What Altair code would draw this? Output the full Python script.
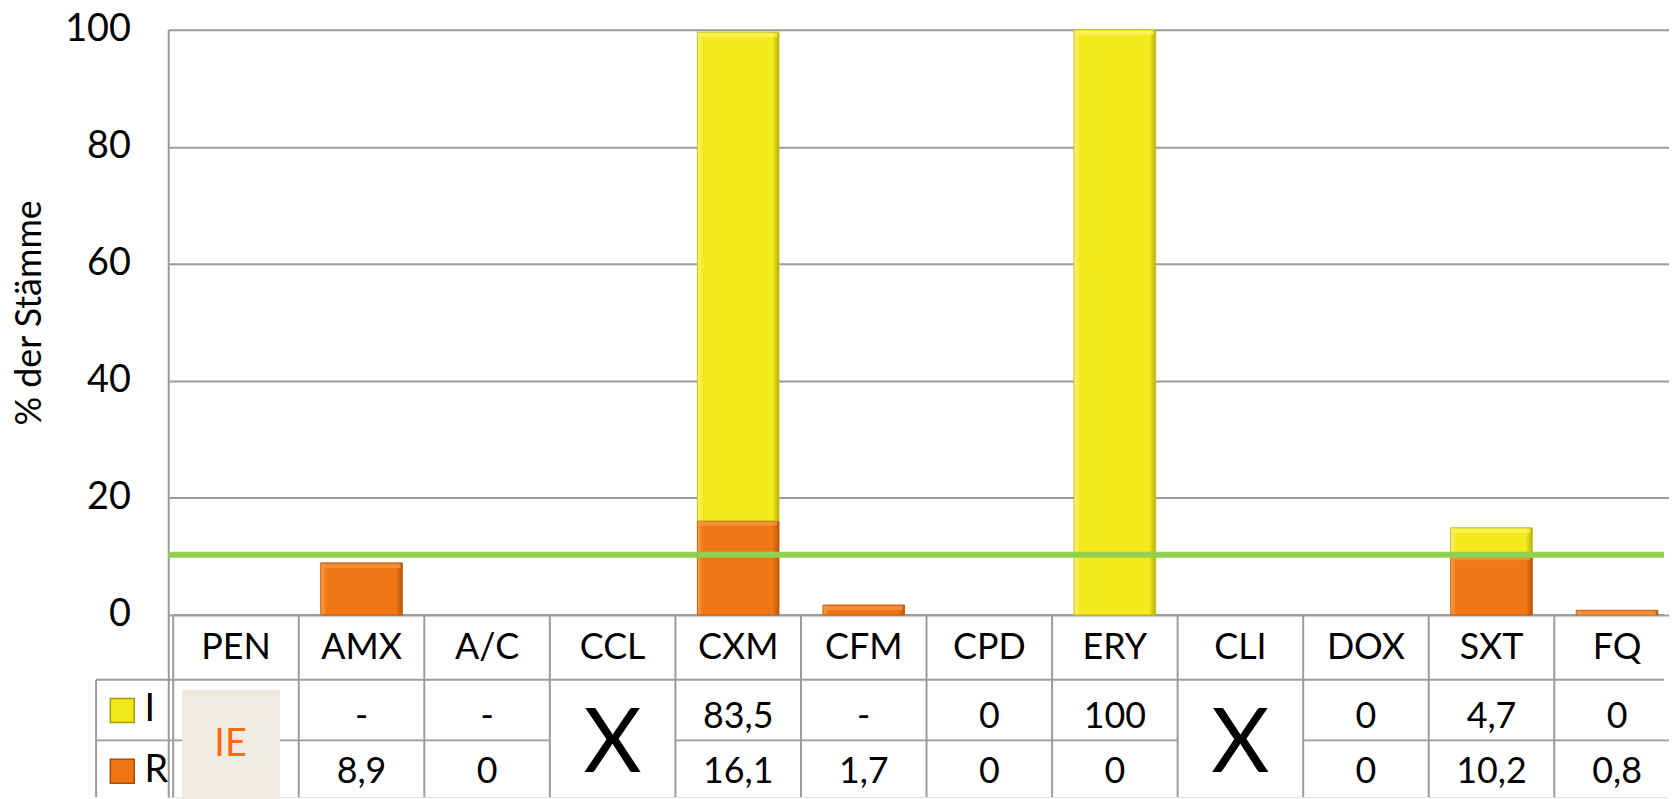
import altair as alt
import pandas as pd

# ---------------- data ----------------
categories = ["PEN", "AMX", "A/C", "CCL", "CXM", "CFM", "CPD", "ERY", "CLI", "DOX", "SXT", "FQ"]
i_values = [None, None, None, None, 83.5, None, 0, 100, None, 0, 4.7, 0]
r_values = [None, 8.9, 0, None, 16.1, 1.7, 0, 0, None, 0, 10.2, 0.8]
merged_x = ["CCL", "CLI"]      # cells shown with a large X
ie_cells = ["PEN"]             # cell shown as "IE"
series_names = ["I", "R"]
threshold = 10.3
y_ticks = [0, 20, 40, 60, 80, 100]
y_title = "% der Stämme"

# ---------------- layout constants ----------------
PX_X = 127.0          # px per category column
PX_Y = 5.88           # px per percent
W = 1508
H = 771
XMAX = W / PX_X
YMIN = 100 - H / PX_Y
FONT = "Lato"
GRID = "#9C9C9C"

def py(px):           # pixels below the zero line -> data units
    return -px / PX_Y

def px_(px):          # pixels from the plot's left edge -> data units
    return px / PX_X

def fmt(v):
    if v is None:
        return "-"
    return str(int(v)) if float(v).is_integer() else str(v).replace(".", ",")

# bars
bar_rows = []
for k, c in enumerate(categories):
    r = r_values[k] or 0
    i = i_values[k] or 0
    if r > 0:
        bar_rows.append(dict(cat=c, xc=k + 0.5, series="R", y0=0, y1=r))
    if i > 0:
        bar_rows.append(dict(cat=c, xc=k + 0.5, series="I", y0=r, y1=r + i))
bars_df = pd.DataFrame(bar_rows)

X_SCALE = alt.Scale(domain=[0, XMAX], nice=False, zero=False)
Y_SCALE = alt.Scale(domain=[YMIN, 100], nice=False, zero=False)

def grad(light, base, dark):
    return alt.Gradient(
        gradient="linear", x1=0, x2=1, y1=0, y2=0,
        stops=[alt.GradientStop(color=light, offset=0),
               alt.GradientStop(color=base, offset=0.07),
               alt.GradientStop(color=base, offset=0.92),
               alt.GradientStop(color=dark, offset=1)])

Y_AXIS = alt.Axis(values=y_ticks, grid=True, gridColor=GRID, gridWidth=2,
                  domainColor=GRID, domainWidth=2, ticks=False, labelPadding=38,
                  labelFont=FONT, labelFontSize=38, labelColor="black",
                  title=y_title, titleFont=FONT, titleFontSize=36,
                  titleFontWeight="normal", titleColor="black",
                  titleX=-139, titleY=284, titleAngle=270,
                  titleAlign="center", titleBaseline="middle")

# table grid lines (first layer: carries the y axis)
LEG_L = px_(-78)
R1 = py(65)
R2 = py(126)
lines = [dict(x=0, x2=XMAX, y=0, y2=0),
         dict(x=LEG_L, x2=XMAX, y=R1, y2=R1),
         dict(x=LEG_L, x2=0, y=R2, y2=R2)]
for k, c in enumerate(categories):
    if c not in merged_x:
        lines.append(dict(x=k, x2=k + 1, y=R2, y2=R2))
for k in range(len(categories) + 1):
    lines.append(dict(x=k, x2=k, y=0, y2=YMIN))
lines.append(dict(x=LEG_L, x2=LEG_L, y=R1, y2=YMIN))
lines_df = pd.DataFrame(lines)
grid_lines = alt.Chart(lines_df).mark_rule(color=GRID, strokeWidth=2).encode(
    x=alt.X("x:Q", scale=X_SCALE, axis=None), x2="x2:Q",
    y=alt.Y("y:Q", scale=Y_SCALE, axis=Y_AXIS), y2="y2:Q")

base_bars = alt.Chart(bars_df)
bars_r = base_bars.transform_filter(alt.datum.series == "R").mark_bar(
    size=82, orient="vertical",
    color=grad("#F6A050", "#F07716", "#B8560C"),
    stroke="#C45E0C", strokeWidth=1).encode(
    x=alt.X("xc:Q", scale=X_SCALE),
    y=alt.Y("y0:Q", scale=Y_SCALE),
    y2="y1:Q")
bars_i = base_bars.transform_filter(alt.datum.series == "I").mark_bar(
    size=82, orient="vertical",
    color=grad("#FBF37A", "#F5EA1E", "#B7AE10"),
    stroke="#C9BF14", strokeWidth=1).encode(
    x=alt.X("xc:Q", scale=X_SCALE),
    y=alt.Y("y0:Q", scale=Y_SCALE),
    y2="y1:Q")
# light bevel along the top edge of each segment
bevel = base_bars.mark_tick(orient="horizontal", size=78, thickness=4, yOffset=3).encode(
    x=alt.X("xc:Q", scale=X_SCALE),
    y=alt.Y("y1:Q", scale=Y_SCALE),
    color=alt.Color("series:N", scale=alt.Scale(domain=series_names, range=["#FBF46E", "#F69A45"]),
                    legend=None))

# threshold line
thr_df = pd.DataFrame([dict(x=px_(-5), x2=XMAX, y=threshold)])
thr = alt.Chart(thr_df).mark_rule(color="#92D050", strokeWidth=6).encode(
    x=alt.X("x:Q", scale=X_SCALE), x2="x2:Q",
    y=alt.Y("y:Q", scale=Y_SCALE))

# table texts
txt = []
for k, c in enumerate(categories):
    txt.append(dict(x=k + 0.5, y=py(33), t=c))
    if c in merged_x or c in ie_cells:
        continue
    txt.append(dict(x=k + 0.5, y=py(103), t=fmt(i_values[k])))
    txt.append(dict(x=k + 0.5, y=py(158), t=fmt(r_values[k])))
txt_df = pd.DataFrame(txt)
table_text = alt.Chart(txt_df).mark_text(font=FONT, fontSize=36, color="black",
                                         baseline="middle", align="center").encode(
    x=alt.X("x:Q", scale=X_SCALE),
    y=alt.Y("y:Q", scale=Y_SCALE), text="t:N")

x_df = pd.DataFrame([dict(x=categories.index(c) + 0.5, y=py(131), t="X") for c in merged_x])
x_text = alt.Chart(x_df).mark_text(font=FONT, fontSize=90, color="black",
                                   baseline="middle", align="center").encode(
    x=alt.X("x:Q", scale=X_SCALE),
    y=alt.Y("y:Q", scale=Y_SCALE), text="t:N")

ie_box_df = pd.DataFrame([dict(x=categories.index(c) + px_(9), x2=categories.index(c) + px_(108),
                               y=py(75), y2=py(185), xc=categories.index(c) + px_(58),
                               yc=py(131), t="IE") for c in ie_cells])
ie_box = alt.Chart(ie_box_df).mark_rect(color="#EEEBE0").encode(
    x=alt.X("x:Q", scale=X_SCALE), x2="x2:Q",
    y=alt.Y("y:Q", scale=Y_SCALE), y2="y2:Q")
ie_text = alt.Chart(ie_box_df).mark_text(font=FONT, fontSize=38, color="#FA6A14",
                                         baseline="middle", align="center").encode(
    x=alt.X("xc:Q", scale=X_SCALE),
    y=alt.Y("yc:Q", scale=Y_SCALE), text="t:N")

# legend inside the table
leg_df = pd.DataFrame([
    dict(s="I", x=px_(-51.5), xt=px_(-29), y=py(96)),
    dict(s="R", x=px_(-51.5), xt=px_(-29), y=py(157)),
])
leg_sq = alt.Chart(leg_df).mark_square(size=580, filled=True, strokeWidth=1.5, opacity=1).encode(
    x=alt.X("x:Q", scale=X_SCALE),
    y=alt.Y("y:Q", scale=Y_SCALE),
    fill=alt.Fill("s:N", scale=alt.Scale(domain=series_names, range=["#F2E81C", "#EE7414"]), legend=None),
    stroke=alt.Stroke("s:N", scale=alt.Scale(domain=series_names, range=["#A39B0C", "#A34D08"]), legend=None))
leg_txt = alt.Chart(leg_df).mark_text(font=FONT, fontSize=38, color="black",
                                      baseline="middle", align="left").encode(
    x=alt.X("xt:Q", scale=X_SCALE),
    y=alt.Y("y:Q", scale=Y_SCALE), text="s:N")

chart = alt.layer(grid_lines, bars_r, bars_i, bevel, thr, table_text, x_text, ie_box, ie_text,
                  leg_sq, leg_txt).properties(
    width=W, height=H,
    padding={"left": 161, "top": 20, "right": 0, "bottom": 0},
    autosize=alt.AutoSizeParams(type="none"),
).configure_view(stroke=None).configure(background="white")

chart.save("out.html", embed_options={"renderer": "svg", "actions": False})
